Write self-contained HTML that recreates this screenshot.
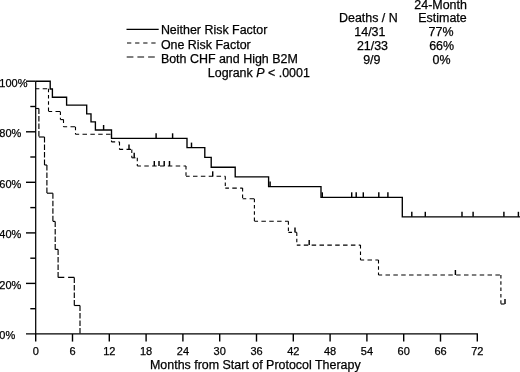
<!DOCTYPE html>
<html><head><meta charset="utf-8"><style>
html,body{margin:0;padding:0;background:#fff;width:520px;height:372px;overflow:hidden}
svg{display:block}
.wrap{will-change:transform;width:520px;height:372px}
text{font-family:"Liberation Sans",sans-serif;fill:#000;stroke:#000;stroke-width:0.25px}
</style></head><body>
<div class="wrap"><svg width="520" height="372" viewBox="0 0 520 372">
<g stroke="#000" stroke-width="1.25" fill="none"><line x1="35.7" y1="81.2" x2="35.7" y2="334"/></g><g stroke="#000" stroke-width="1.4" fill="none"><line x1="26" y1="333.9" x2="478" y2="333.9"/><line x1="30.3" y1="308.7" x2="35.7" y2="308.7"/><line x1="26" y1="283.4" x2="35.7" y2="283.4"/><line x1="30.3" y1="258.2" x2="35.7" y2="258.2"/><line x1="26" y1="232.9" x2="35.7" y2="232.9"/><line x1="30.3" y1="207.6" x2="35.7" y2="207.6"/><line x1="26" y1="182.3" x2="35.7" y2="182.3"/><line x1="30.3" y1="157.0" x2="35.7" y2="157.0"/><line x1="26" y1="131.8" x2="35.7" y2="131.8"/><line x1="30.3" y1="106.5" x2="35.7" y2="106.5"/><line x1="26" y1="81.2" x2="35.7" y2="81.2"/><line x1="35.7" y1="334" x2="35.7" y2="341.6"/><line x1="72.5" y1="334" x2="72.5" y2="341.6"/><line x1="109.3" y1="334" x2="109.3" y2="341.6"/><line x1="146.1" y1="334" x2="146.1" y2="341.6"/><line x1="182.9" y1="334" x2="182.9" y2="341.6"/><line x1="219.7" y1="334" x2="219.7" y2="341.6"/><line x1="256.5" y1="334" x2="256.5" y2="341.6"/><line x1="293.3" y1="334" x2="293.3" y2="341.6"/><line x1="330.1" y1="334" x2="330.1" y2="341.6"/><line x1="366.9" y1="334" x2="366.9" y2="341.6"/><line x1="403.7" y1="334" x2="403.7" y2="341.6"/><line x1="440.5" y1="334" x2="440.5" y2="341.6"/><line x1="477.3" y1="334" x2="477.3" y2="341.6"/></g><path d="M 35.7 81.2 H 50.2 V 89 H 52.4 V 97.2 H 66.6 V 105.1 H 86.7 V 113.8 H 91 V 121.8 H 95.4 V 130 H 111.5 V 138.3 H 187 V 147.6 H 204.8 V 157.3 H 211.2 V 167.2 H 235.2 V 176.8 H 268.6 V 186.6 H 321 V 197.3 H 402.3 V 216.8 H 520" stroke="#000" stroke-width="1.35" fill="none"/><g stroke="#000" stroke-width="1.45"><line x1="103.6" y1="125" x2="103.6" y2="130"/><line x1="156.1" y1="133.3" x2="156.1" y2="138.3"/><line x1="172.6" y1="133.3" x2="172.6" y2="138.3"/><line x1="191.5" y1="142.6" x2="191.5" y2="147.6"/><line x1="270.1" y1="181.6" x2="270.1" y2="186.6"/><line x1="322.3" y1="192.3" x2="322.3" y2="197.3"/><line x1="351.7" y1="192.3" x2="351.7" y2="197.3"/><line x1="356.2" y1="192.3" x2="356.2" y2="197.3"/><line x1="363.3" y1="192.3" x2="363.3" y2="197.3"/><line x1="378.8" y1="192.3" x2="378.8" y2="197.3"/><line x1="387.9" y1="192.3" x2="387.9" y2="197.3"/><line x1="411.8" y1="211.8" x2="411.8" y2="216.8"/><line x1="425.3" y1="211.8" x2="425.3" y2="216.8"/><line x1="462" y1="211.8" x2="462" y2="216.8"/><line x1="473.1" y1="211.8" x2="473.1" y2="216.8"/><line x1="503.9" y1="211.8" x2="503.9" y2="216.8"/><line x1="518.4" y1="211.8" x2="518.4" y2="216.8"/></g><g stroke="#000" stroke-width="1.1" fill="none"><line x1="35.7" y1="88.7" x2="48.5" y2="88.7" stroke-dasharray="4.5 3.35" stroke-dashoffset="0.85"/><line x1="48.5" y1="88.7" x2="48.5" y2="111.5" stroke-dasharray="3.5 2.8" stroke-dashoffset="0"/><line x1="48.5" y1="111.5" x2="60.4" y2="111.5" stroke-dasharray="4.5 3.35" stroke-dashoffset="0.85"/><line x1="60.4" y1="111.5" x2="60.4" y2="119.6" stroke-dasharray="3.5 2.8" stroke-dashoffset="0"/><line x1="60.4" y1="119.6" x2="63.5" y2="119.6" stroke-dasharray="4.5 3.35" stroke-dashoffset="0.85"/><line x1="63.5" y1="119.6" x2="63.5" y2="126.8" stroke-dasharray="3.5 2.8" stroke-dashoffset="0"/><line x1="63.5" y1="126.8" x2="75.5" y2="126.8" stroke-dasharray="4.5 3.35" stroke-dashoffset="0.85"/><line x1="75.5" y1="126.8" x2="75.5" y2="134.2" stroke-dasharray="3.5 2.8" stroke-dashoffset="0"/><line x1="75.5" y1="134.2" x2="111.5" y2="134.2" stroke-dasharray="4.5 3.35" stroke-dashoffset="0.85"/><line x1="111.5" y1="134.2" x2="111.5" y2="141.9" stroke-dasharray="3.5 2.8" stroke-dashoffset="0"/><line x1="111.5" y1="141.9" x2="119.5" y2="141.9" stroke-dasharray="4.5 3.35" stroke-dashoffset="0.85"/><line x1="119.5" y1="141.9" x2="119.5" y2="149.4" stroke-dasharray="3.5 2.8" stroke-dashoffset="0"/><line x1="119.5" y1="149.4" x2="131.8" y2="149.4" stroke-dasharray="4.5 3.35" stroke-dashoffset="0.85"/><line x1="131.8" y1="149.4" x2="131.8" y2="157.8" stroke-dasharray="3.5 2.8" stroke-dashoffset="0"/><line x1="131.8" y1="157.8" x2="137.3" y2="157.8" stroke-dasharray="4.5 3.35" stroke-dashoffset="0.85"/><line x1="137.3" y1="157.8" x2="137.3" y2="166.0" stroke-dasharray="3.5 2.8" stroke-dashoffset="0"/><line x1="137.3" y1="166.0" x2="186.0" y2="166.0" stroke-dasharray="4.5 3.35" stroke-dashoffset="0.85"/><line x1="186.0" y1="166.0" x2="186.0" y2="176.3" stroke-dasharray="3.5 2.8" stroke-dashoffset="0"/><line x1="186.0" y1="176.3" x2="225.3" y2="176.3" stroke-dasharray="4.5 3.35" stroke-dashoffset="0.85"/><line x1="225.3" y1="176.3" x2="225.3" y2="188.1" stroke-dasharray="3.5 2.8" stroke-dashoffset="0"/><line x1="225.3" y1="188.1" x2="242.6" y2="188.1" stroke-dasharray="4.5 3.35" stroke-dashoffset="0.85"/><line x1="242.6" y1="188.1" x2="242.6" y2="198.7" stroke-dasharray="3.5 2.8" stroke-dashoffset="0"/><line x1="242.6" y1="198.7" x2="254.4" y2="198.7" stroke-dasharray="4.5 3.35" stroke-dashoffset="0.85"/><line x1="254.4" y1="198.7" x2="254.4" y2="221.3" stroke-dasharray="3.5 2.8" stroke-dashoffset="0"/><line x1="254.4" y1="221.3" x2="288.4" y2="221.3" stroke-dasharray="4.5 3.35" stroke-dashoffset="0.85"/><line x1="288.4" y1="221.3" x2="288.4" y2="232.4" stroke-dasharray="3.5 2.8" stroke-dashoffset="0"/><line x1="288.4" y1="232.4" x2="296.8" y2="232.4" stroke-dasharray="4.5 3.35" stroke-dashoffset="0.85"/><line x1="296.8" y1="232.4" x2="296.8" y2="245.1" stroke-dasharray="3.5 2.8" stroke-dashoffset="0"/><line x1="296.8" y1="245.1" x2="360.5" y2="245.1" stroke-dasharray="4.5 3.35" stroke-dashoffset="0.85"/><line x1="360.5" y1="245.1" x2="360.5" y2="260.0" stroke-dasharray="3.5 2.8" stroke-dashoffset="0"/><line x1="360.5" y1="260.0" x2="378.5" y2="260.0" stroke-dasharray="4.5 3.35" stroke-dashoffset="0.85"/><line x1="378.5" y1="260.0" x2="378.5" y2="275.0" stroke-dasharray="3.5 2.8" stroke-dashoffset="0"/><line x1="378.5" y1="275.0" x2="500.9" y2="275.0" stroke-dasharray="4.5 3.35" stroke-dashoffset="0.85"/><line x1="500.9" y1="275.0" x2="500.9" y2="304.0" stroke-dasharray="3.5 2.8" stroke-dashoffset="0"/><line x1="500.9" y1="304.0" x2="505.0" y2="304.0" stroke-dasharray="4.5 3.35" stroke-dashoffset="0.85"/></g><g stroke="#000" stroke-width="1.45"><line x1="129" y1="144.4" x2="129" y2="149.4"/><line x1="134.2" y1="152.8" x2="134.2" y2="157.8"/><line x1="154.3" y1="161" x2="154.3" y2="166"/><line x1="159" y1="161" x2="159" y2="166"/><line x1="164.2" y1="161" x2="164.2" y2="166"/><line x1="169.5" y1="161" x2="169.5" y2="166"/><line x1="212.7" y1="171.3" x2="212.7" y2="176.3"/><line x1="295" y1="227.4" x2="295" y2="232.4"/><line x1="309.2" y1="240.1" x2="309.2" y2="245.1"/><line x1="455.4" y1="270" x2="455.4" y2="275"/><line x1="505" y1="299" x2="505" y2="304"/></g><g stroke="#000" stroke-width="1.15" fill="none"><line x1="35.7" y1="108.5" x2="38.9" y2="108.5" stroke-dasharray="6.2 3.8" stroke-dashoffset="0"/><line x1="38.9" y1="108.5" x2="38.9" y2="137.0" stroke-dasharray="5.5 2" stroke-dashoffset="0"/><line x1="38.9" y1="137.0" x2="44.5" y2="137.0" stroke-dasharray="6.2 3.8" stroke-dashoffset="0"/><line x1="44.5" y1="137.0" x2="44.5" y2="165.0" stroke-dasharray="5.5 2" stroke-dashoffset="0"/><line x1="44.5" y1="165.0" x2="46.9" y2="165.0" stroke-dasharray="6.2 3.8" stroke-dashoffset="0"/><line x1="46.9" y1="165.0" x2="46.9" y2="193.2" stroke-dasharray="5.5 2" stroke-dashoffset="0"/><line x1="46.9" y1="193.2" x2="52.9" y2="193.2" stroke-dasharray="6.2 3.8" stroke-dashoffset="0"/><line x1="52.9" y1="193.2" x2="52.9" y2="221.4" stroke-dasharray="5.5 2" stroke-dashoffset="0"/><line x1="52.9" y1="221.4" x2="55.2" y2="221.4" stroke-dasharray="6.2 3.8" stroke-dashoffset="0"/><line x1="55.2" y1="221.4" x2="55.2" y2="249.4" stroke-dasharray="5.5 2" stroke-dashoffset="0"/><line x1="55.2" y1="249.4" x2="58.1" y2="249.4" stroke-dasharray="6.2 3.8" stroke-dashoffset="0"/><line x1="58.1" y1="249.4" x2="58.1" y2="277.4" stroke-dasharray="5.5 2" stroke-dashoffset="0"/><line x1="58.1" y1="277.4" x2="74.3" y2="277.4" stroke-dasharray="6.2 3.8" stroke-dashoffset="0"/><line x1="74.3" y1="277.4" x2="74.3" y2="305.5" stroke-dasharray="5.5 2" stroke-dashoffset="0"/><line x1="74.3" y1="305.5" x2="80.0" y2="305.5" stroke-dasharray="6.2 3.8" stroke-dashoffset="0"/><line x1="80.0" y1="305.5" x2="80.0" y2="334.0" stroke-dasharray="5.5 2" stroke-dashoffset="0"/></g><line x1="126.5" y1="29.3" x2="158.7" y2="29.3" stroke="#000" stroke-width="1.35"/><line x1="127" y1="43" x2="158" y2="43" stroke="#000" stroke-width="1.1" stroke-dasharray="4.3 3.8"/><line x1="126.7" y1="57" x2="158" y2="57" stroke="#000" stroke-width="1.1" stroke-dasharray="6.7 4"/>
<text x="160.9" y="34.2" font-size="12.45" text-anchor="start" >Neither Risk Factor</text><text x="160.9" y="48.9" font-size="12.45" text-anchor="start" >One Risk Factor</text><text x="160.9" y="63.3" font-size="12.45" text-anchor="start" >Both CHF and High B2M</text><text x="207.8" y="77.3" font-size="12.45" text-anchor="start" >Logrank <tspan font-style="italic">P</tspan> &lt; .0001</text><text x="339.0" y="21.8" font-size="12.45" text-anchor="start" >Deaths / N</text><text x="414.3" y="9.15" font-size="12.45" text-anchor="start" >24-Month</text><text x="418.3" y="21.7" font-size="12.45" text-anchor="start" >Estimate</text><text x="354.3" y="35.8" font-size="12.45" text-anchor="start" >14/31</text><text x="356.9" y="49.5" font-size="12.45" text-anchor="start" >21/33</text><text x="363.2" y="63.5" font-size="12.45" text-anchor="start" >9/9</text><text x="428.6" y="35.8" font-size="12.45" text-anchor="start" >77%</text><text x="429.2" y="49.9" font-size="12.45" text-anchor="start" >66%</text><text x="432.5" y="63.6" font-size="12.45" text-anchor="start" >0%</text><text x="-0.7" y="339.3" font-size="11" text-anchor="start" >0%</text><text x="-0.7" y="288.7" font-size="11" text-anchor="start" >20%</text><text x="-0.7" y="238.2" font-size="11" text-anchor="start" >40%</text><text x="-0.7" y="187.6" font-size="11" text-anchor="start" >60%</text><text x="-0.7" y="137.1" font-size="11" text-anchor="start" >80%</text><text x="-0.7" y="86.5" font-size="11" text-anchor="start" >100%</text><text x="35.7" y="354.8" font-size="11" text-anchor="middle" >0</text><text x="72.5" y="354.8" font-size="11" text-anchor="middle" >6</text><text x="109.3" y="354.8" font-size="11" text-anchor="middle" >12</text><text x="146.1" y="354.8" font-size="11" text-anchor="middle" >18</text><text x="182.9" y="354.8" font-size="11" text-anchor="middle" >24</text><text x="219.7" y="354.8" font-size="11" text-anchor="middle" >30</text><text x="256.5" y="354.8" font-size="11" text-anchor="middle" >36</text><text x="293.3" y="354.8" font-size="11" text-anchor="middle" >42</text><text x="330.1" y="354.8" font-size="11" text-anchor="middle" >48</text><text x="366.9" y="354.8" font-size="11" text-anchor="middle" >54</text><text x="403.7" y="354.8" font-size="11" text-anchor="middle" >60</text><text x="440.5" y="354.8" font-size="11" text-anchor="middle" >66</text><text x="477.3" y="354.8" font-size="11" text-anchor="middle" >72</text><text x="150" y="368.8" font-size="12.45" text-anchor="start" >Months from Start of Protocol Therapy</text>
</svg></div>
</body></html>
